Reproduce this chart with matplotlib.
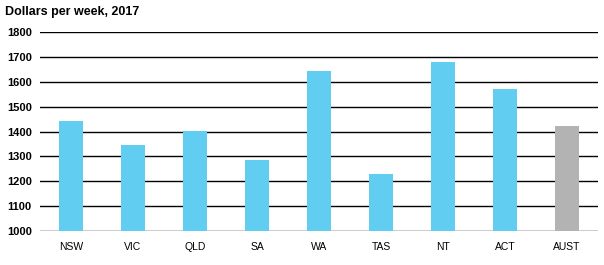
import matplotlib
matplotlib.use('Agg')
import matplotlib.pyplot as plt

# Average weekly earnings by state
states = ['NSW', 'VIC', 'QLD', 'SA', 'WA', 'TAS', 'NT', 'ACT', 'AUST']
earnings = [1441, 1345, 1401, 1285, 1645, 1229, 1681, 1569, 1421]
yticks = [1000, 1100, 1200, 1300, 1400, 1500, 1600, 1700, 1800]

plt.rcParams['font.family'] = ['Liberation Sans', 'DejaVu Sans']

fig = plt.figure(figsize=(6.04, 2.65), dpi=100)
ax = fig.add_axes([40 / 604, 1 - 231 / 265, 558 / 604, 199 / 265])

colors = ['#61cdf1'] * (len(states) - 1) + ['#b3b3b4']
ax.bar(range(len(states)), earnings, width=0.4, color=colors, zorder=3)

ax.set_ylim(1000, 1800)
ax.set_xlim(-0.5, len(states) - 0.5)
ax.set_yticks(yticks)
ax.set_yticklabels([str(v) for v in yticks], fontsize=8, fontweight='bold')
ax.set_xticks(range(len(states)))
ax.set_xticklabels(states, fontsize=7.5)
ax.tick_params(length=0)
ax.tick_params(axis='y', pad=6)
ax.tick_params(axis='x', pad=8)
ax.grid(axis='y', color='black', linewidth=1, zorder=1)
for s in ax.spines.values():
    s.set_visible(False)

fig.text(5 / 604, 1 - 12 / 265, 'Dollars per week, 2017', fontsize=9,
         fontweight='bold', va='center', ha='left')

fig.savefig('out.png', dpi=100)
